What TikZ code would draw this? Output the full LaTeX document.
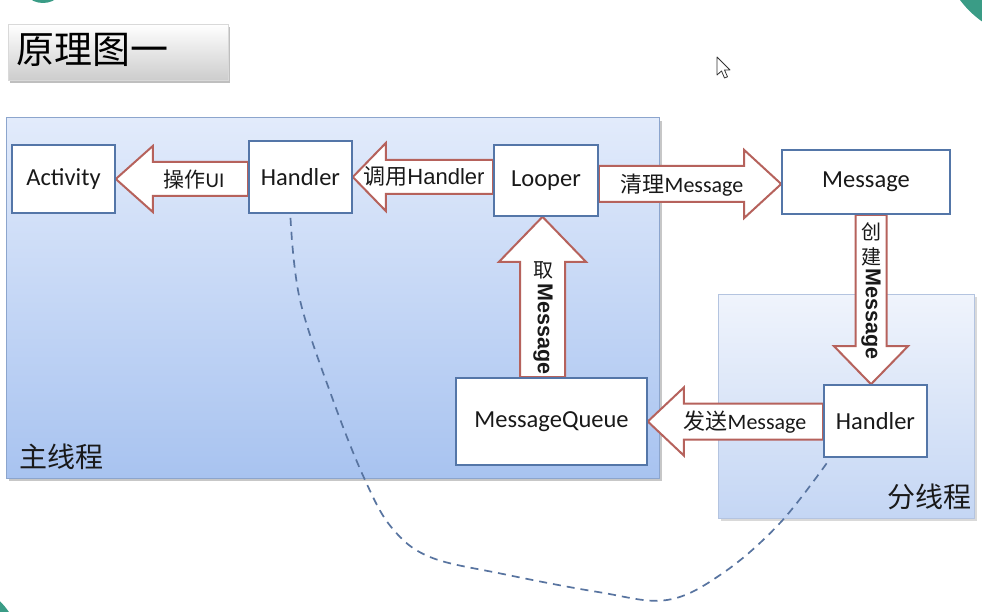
\documentclass[tikz,border=0pt]{standalone}
\usepackage{fontspec}
\setmainfont{Carlito}
\newfontfamily\cjk{Noto Sans CJK SC}
\newfontfamily\arial{Liberation Sans}
\usetikzlibrary{calc}
\pgfdeclarelayer{bg}\pgfdeclarelayer{fg}\pgfsetlayers{bg,main,fg}
\definecolor{nodeblue}{RGB}{84,118,168}
\definecolor{arrred}{RGB}{182,98,92}
\definecolor{dashblue}{RGB}{88,116,160}
\definecolor{mainTop}{RGB}{226,235,251}
\definecolor{mainBot}{RGB}{168,195,240}
\definecolor{mainEdge}{RGB}{140,165,205}
\definecolor{subTop}{RGB}{240,244,252}
\definecolor{subBot}{RGB}{196,214,244}
\definecolor{subEdge}{RGB}{180,196,224}
\definecolor{deco}{RGB}{58,156,134}
\definecolor{txt}{RGB}{25,25,25}
\definecolor{titleBot}{RGB}{205,205,205}
\tikzset{
  box/.style={draw=nodeblue, line width=1.6pt, fill=white, inner sep=0pt, text=txt,
              font=\fontsize{24.5}{28}\selectfont},
  barrow/.style={draw=arrred, line width=2pt, fill=white, line join=miter},
  alabel/.style={text=txt, inner sep=0pt, font=\fontsize{21}{24}\selectfont},
  vlabel/.style={text=txt, inner sep=0pt, font=\fontsize{21.5}{24}\selectfont\arial\bfseries},
  threadlabel/.style={text=txt, inner sep=0pt, font=\fontsize{28}{32}\selectfont\cjk},
  dashline/.style={draw=dashblue, line width=1.7pt, dash pattern=on 8pt off 6pt}
}
\begin{document}
\begin{tikzpicture}[x=1pt,y=-1pt]
\useasboundingbox (0,0) rectangle (982,612);
\begin{pgfonlayer}{bg}
  \fill[white] (0,0) rectangle (982,612);
  \begin{scope}
    \clip (0,0) rectangle (982,612);
    \fill[deco] (43,-20) circle (23);
    \fill[deco] (1040,-60) circle (100);
    \fill[deco] (-60,660) circle (84);
  \end{scope}
  % title
  \fill[black!25] (10,27) rectangle (230,83);
  \shadedraw[top color=white, bottom color=titleBot, draw=black!15, line width=0.6pt] (8,24) rectangle (228,80);
  % main thread
  \fill[black!22] (9,121) rectangle (662,481);
  \shadedraw[top color=mainTop, bottom color=mainBot, draw=mainEdge, line width=1pt] (6,118) rectangle (659,478);
  % sub thread
  \fill[black!15] (721,297) rectangle (977,521);
  \shadedraw[top color=subTop, bottom color=subBot, draw=subEdge, line width=1pt] (718,294) rectangle (974,518);
\end{pgfonlayer}

\begin{pgfonlayer}{fg}
  \node[anchor=west, inner sep=0pt, text=black, font=\fontsize{38}{42}\selectfont\cjk] (title) at (16,50) {原理图一};
  \node[threadlabel] (mainlbl) at (61,457) {主线程};
  \node[threadlabel] (sublbl) at (929,497) {分线程};

  \node[box, minimum width=103pt, minimum height=68pt] (act) at (63.5,179) {Activity};
  \node[box, minimum width=103pt, minimum height=72pt] (h1) at (300.5,177) {Handler};
  \node[box, minimum width=104pt, minimum height=71pt] (loop) at (546,180.5) {Looper};
  \node[box, minimum width=168pt, minimum height=64pt] (msg) at (866,182) {Message};
  \node[box, minimum width=191pt, minimum height=87pt] (mq) at (551.5,421.5) {MessageQueue};
  \node[box, minimum width=103pt, minimum height=72pt] (h2) at (875.5,421) {Handler};

  \node[alabel] (l1) at (194,180) {{\cjk 操作}UI};
  \node[alabel, font=\fontsize{22}{24}\selectfont] (l2) at (424,176) {{\cjk 调用}{\arial Handler}};
  \node[alabel, font=\fontsize{22}{24}\selectfont] (l3) at (682,185) {{\cjk 清理}Message};
  \node[alabel, font=\fontsize{22}{24}\selectfont] (l6) at (745,422) {{\cjk 发送}Message};
  \node[alabel, font=\fontsize{20}{24}\selectfont\cjk] (l4a) at (543,270) {取};
  \node[vlabel, rotate=-90] (l4b) at (543,329) {Message};
  \node[alabel, font=\fontsize{20}{24}\selectfont\cjk] (l5a) at (871,232) {创};
  \node[alabel, font=\fontsize{20}{24}\selectfont\cjk] (l5b) at (871,257) {建};
  \node[vlabel, rotate=-90] (l5c) at (871,314) {Message};
\end{pgfonlayer}

% block arrows
\draw[barrow] let \p1=(h1.west), \p2=(act.east) in
  (\x1,\y2+17pt) -- (\x2+37pt,\y2+17pt) -- (\x2+37pt,\y2+33pt) -- (\x2,\y2)
  -- (\x2+37pt,\y2-33pt) -- (\x2+37pt,\y2-17pt) -- (\x1,\y2-17pt) -- cycle;
\draw[barrow] let \p1=(loop.west), \p2=(h1.east) in
  (\x1,\y2+17pt) -- (\x2+33pt,\y2+17pt) -- (\x2+33pt,\y2+34pt) -- (\x2,\y2)
  -- (\x2+33pt,\y2-34pt) -- (\x2+33pt,\y2-17pt) -- (\x1,\y2-17pt) -- cycle;
\draw[barrow] let \p1=(loop.east), \p2=(msg.west) in
  (\x1,\y2+16pt) -- (\x2-37pt,\y2+16pt) -- (\x2-37pt,\y2+32pt) -- (\x2,\y2-2pt)
  -- (\x2-37pt,\y2-36pt) -- (\x2-37pt,\y2-20pt) -- (\x1,\y2-20pt) -- cycle;
\draw[barrow] let \p1=(h2.west), \p2=(mq.east) in
  (\x1,\y2+18pt) -- (\x2+36pt,\y2+18pt) -- (\x2+36pt,\y2+34pt) -- (\x2,\y2)
  -- (\x2+36pt,\y2-34pt) -- (\x2+36pt,\y2-18pt) -- (\x1,\y2-18pt) -- cycle;
\draw[barrow] let \p1=(mq.north), \p2=(loop.south) in
  (\x2-26pt,\y1) -- (\x2-26pt,\y2-45pt) -- (\x2-47pt,\y2-45pt) -- (\x2-3.5pt,\y2)
  -- (\x2+40pt,\y2-45pt) -- (\x2+19pt,\y2-45pt) -- (\x2+19pt,\y1) -- cycle;
\draw[barrow] let \p1=(msg.south), \p2=(h2.north) in
  (\x2-20pt,\y1) -- (\x2-20pt,\y2+38pt) -- (\x2-41.5pt,\y2+38pt) -- (\x2-4.5pt,\y2)
  -- (\x2+32.5pt,\y2+38pt) -- (\x2+11pt,\y2+38pt) -- (\x2+11pt,\y1) -- cycle;

% dashed relation
\coordinate (c0) at ($(h1.south)+(-10,4)$);
\coordinate (c1) at ($(h2.south west)+(6,2)$);
\draw[dashline] plot[smooth, tension=0.6] coordinates {(c0) (300,300) (333,400) (365,480) (392,528) (430,557) (503,574) (598,592) (667,600) (723,573) (780,523) (c1)};

% mouse pointer
\draw[fill=white, draw=black!80, line width=0.8pt, line join=round] (717,57) -- (717,75) -- (721.5,71) -- (724.5,78) -- (727.5,76.8) -- (724.5,70) -- (730,70) -- cycle;
\end{tikzpicture}
\end{document}
